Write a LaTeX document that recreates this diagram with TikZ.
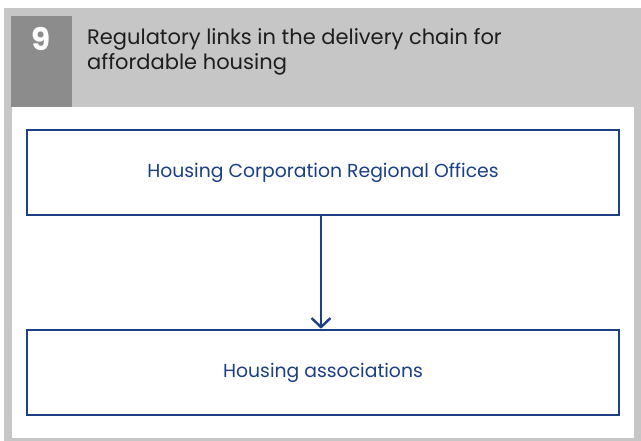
\documentclass[tikz,border=0pt]{standalone}
\usepackage{fontspec}
\setmainfont{Poppins}
\usetikzlibrary{arrows.meta}
\definecolor{framegrey}{HTML}{C6C6C7}
\definecolor{numgrey}{HTML}{8C8C8C}
\definecolor{boxblue}{HTML}{1C3F85}
\definecolor{titletext}{HTML}{1E1E1E}
\tikzset{
  flowbox/.style={draw=boxblue, line width=2.6pt, fill=white, minimum width=592pt, minimum height=85pt, inner sep=0pt, text=boxblue, font=\fontsize{18.8}{22}\selectfont},
  flowarrow/.style={draw=boxblue, line width=2.4pt, -{Straight Barb[length=9pt,width=19pt,line width=2.4pt]}}
}
\begin{document}
\begin{tikzpicture}[x=1pt,y=-1pt]
\useasboundingbox (0,0) rectangle (641,441);
\fill[framegrey] (4,8) rectangle (641,441);
\fill[numgrey] (11,16) rectangle (72,107);
\fill[white] (12,107) rectangle (634,438);
\node[text=white, font=\fontsize{31}{33}\selectfont\bfseries, anchor=base] (num) at (41.5,51) {9};
\node[text=titletext, font=\fontsize{21}{25}\selectfont, anchor=base west, align=left, inner sep=0pt] (title) at (87,70) {Regulatory links in the delivery chain for\\affordable housing};
\node[flowbox] (hc) at (323,172.5) {Housing Corporation Regional Offices};
\node[flowbox] (ha) at (323,372.5) {Housing associations};
\draw[flowarrow] (hc.south -| 321,0) -- (ha.north -| 321,0);
\end{tikzpicture}
\end{document}
